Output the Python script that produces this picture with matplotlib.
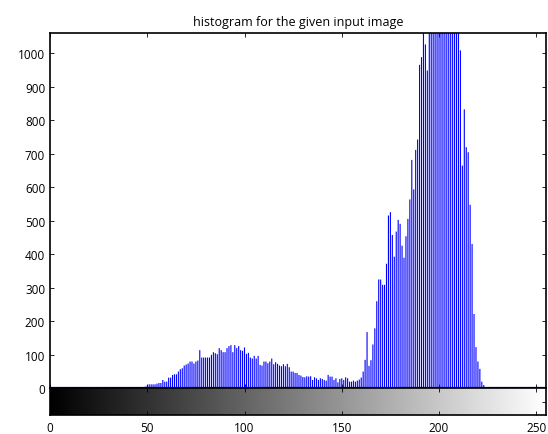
import matplotlib.pyplot as plt
import numpy as np

plt.rcParams['font.family'] = ['Open Sans', 'DejaVu Sans']

# histogram counts, bins 0..255
counts = np.zeros(256)
counts[40:51] = [1, 0, 1, 2, 2, 1, 3, 3, 2, 4, 8]
counts[51:61] = [11, 11, 11, 11, 13, 15, 15, 24, 19, 19]
counts[61:71] = [31, 31, 39, 41, 41, 49, 56, 59, 67, 70]
counts[71:81] = [73, 79, 79, 73, 79, 82, 113, 91, 91, 91]
counts[81:91] = [91, 91, 99, 107, 104, 101, 119, 113, 107, 107]
counts[91:101] = [119, 125, 128, 107, 128, 119, 125, 113, 111, 121]
counts[101:111] = [102, 105, 91, 88, 96, 88, 96, 69, 67, 79]
counts[111:121] = [79, 74, 79, 88, 71, 77, 72, 67, 65, 71]
counts[121:131] = [65, 72, 62, 49, 49, 45, 45, 39, 37, 33]
counts[131:141] = [32, 35, 34, 35, 24, 32, 29, 24, 29, 27]
counts[141:151] = [24, 22, 39, 34, 34, 24, 29, 17, 27, 29]
counts[151:159] = [24, 32, 29, 19, 19, 22, 19, 22]
counts[159:169] = [25, 31, 49, 84, 167, 66, 83, 130, 178, 259]
counts[169:179] = [324, 324, 308, 308, 371, 515, 525, 457, 392, 467]
counts[179:189] = [502, 490, 425, 389, 453, 505, 563, 681, 593, 711]
counts[189:195] = [742, 965, 988, 1150, 1026, 948]
counts[195:211] = [1200, 1350, 1420, 1500, 1600, 1550, 1650, 1600,
                   1500, 1450, 1400, 1300, 1250, 1150, 1100, 1080]
counts[211:221] = [1008, 664, 832, 719, 704, 547, 430, 221, 122, 79]
counts[221:231] = [57, 19, 9, 2, 1, 1, 0, 1, 0, 0]
bins = np.arange(256)

xlim = (0, 255)
ylim = (0, 1060)
xticks = [0, 50, 100, 150, 200, 250]
yticks = np.arange(0, 1001, 100)

fig = plt.figure(figsize=(5.48, 4.35), dpi=100)
ax = fig.add_axes([50/548, 46/435, 496/548, 355/435])
cb = fig.add_axes([50/548, 19/435, 496/548, 27/435])

# stems
ax.vlines(bins, 0, counts, colors='#0000ff', linewidth=0.8, snap=False, antialiased=True)
ax.axhline(0, color='#00005a', linewidth=1.6, zorder=5)
ax.set_xlim(xlim)
ax.set_ylim(ylim)
ax.set_yticks(yticks)
ax.set_xticks(xticks)
ax.tick_params(direction='in', length=3, top=True, right=True, labelbottom=False,
               labelsize=8.5, width=0.6)
ax.set_title('histogram for the given input image', fontsize=9, pad=6)

# gray scale bar under the histogram
grad = np.linspace(0, 255, 256).reshape(1, -1)
cb.imshow(grad, cmap='gray', aspect='auto', extent=(0, 255, 0, 1), vmin=0, vmax=255)
cb.set_xlim(xlim)
cb.set_ylim(0, 1)
cb.set_xticks(xticks)
cb.set_yticks([0.5])
cb.set_yticklabels([])
cb.tick_params(direction='in', length=3, top=True, right=True, left=False,
               labelsize=8.5, width=0.6, pad=4)

for a in (ax, cb):
    for s in a.spines.values():
        s.set_linewidth(1.2)

fig.savefig('out.png', dpi=100)
